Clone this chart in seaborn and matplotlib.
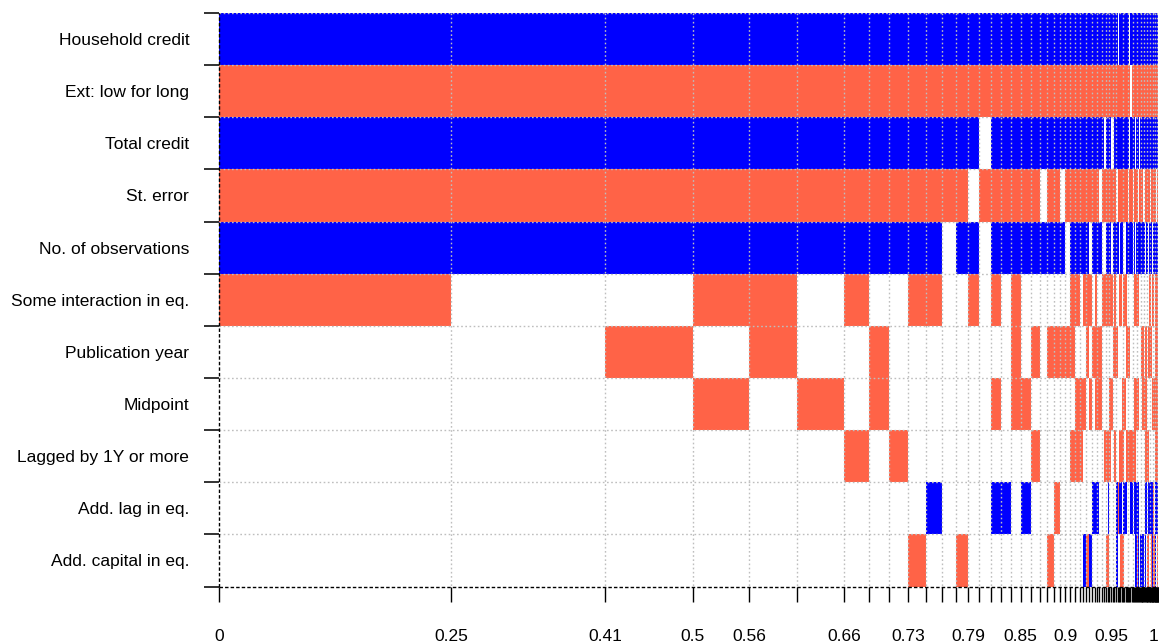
import numpy as np
import matplotlib
matplotlib.use("Agg")
import matplotlib.pyplot as plt
from matplotlib.colors import ListedColormap, BoundaryNorm
import seaborn as sns

# Regressors, top to bottom
variables = [
    "Household credit", "Ext: low for long", "Total credit", "St. error",
    "No. of observations", "Some interaction in eq.", "Publication year",
    "Midpoint", "Lagged by 1Y or more", "Add. lag in eq.", "Add. capital in eq.",
]

# Best models, ordered by posterior model probability.
# One character per regressor: '+' positive sign, '-' negative sign, '0' not included.
models = [
    "+-+-+-00000", "+-+-+000000", "+-+-+0-0000", "+-+-+-0-000", "+-+-+--0000",
    "+-+-+00-000", "+-+-+-00-00", "+-+-+0--000", "+-+-+000-00", "+-+-+-0000-",
    "+-+-+-000+0", "+-+-0000000", "+-+-+00000-", "+-+0+-00000", "+-0-0000000",
    "+-+-+-0-0+0", "+-+-+0000+0", "+-+-+---000", "+-+-+00-0+0", "+-+-+0-0-00",
    "+-+0+000000", "+-+-+0-000-", "+-+-+0-00-0", "+-+0+0-0000", "+-+-00-0000",
    "+-+-+--0-00", "+-+-+-0--00",
    "+-+-+00--00", "+-+-+-0-00+", "+-+-+--000-", "+-+-0-0-00+", "+-+-+0-00+0",
    "+-+-+---0+0", "+-+-+0--0+0", "+-+0+0--000", "+-+-0-00000", "+-0-0-00-00",
    "+-+-+-00-0-", "+-+-+-00-+-", "+-+-+-0--00", "+-0-0-0-000", "+-0-+0-0000",
    "+-+-+--0-00", "+-+0+0-00++", "0-+-+0000-0",
    "+-+-0-00-+0", "+-+-+-00-+-", "+-+-+00--0-", "+-+-0-0--+-", "+-+-0-0-0+0",
    "+-+-+--0-+0", "+-+-+0-0-00", "+-+0+0-0-00", "0-0-+0-0-00", "+0+-+000-+0",
    "+-+-+000-+0", "+-+00000-00", "+-+-+-0--+0", "+-0-0-0--++", "+-+-+-0-0++",
    "+-+-+-0-0+-", "+-+0+-0-0++", "+-0-+000000", "+-+-+00000+", "+-+-+0-000+",
    "+-+-00--00+", "+-+-+0--00+", "+-+0+0--00+", "+-+0+00-000", "+-+-00---++",
    "+-+-+0---+0", "+-+-+0-0-+-", "+-+-+000-0-", "+-+-00-0-+-", "+-+-+--00+0",
    "+-+-+--00++", "+-+0+--00+0", "+-+-+0-00+-", "+-+-+--00+-", "+-+-0-0-0++",
    "+-0-+-0-00+", "+-+-+-0-0--", "+-+-+00-00-", "+-+-+----+0", "+-+-+----++",
    "+-+-+----0-", "+-+0+----+0", "+-+-0----+-", "+-+-+----+-", "+-0-+----+0",
]

pmp = [
    0.2471, 0.1640, 0.0934, 0.0603, 0.0511, 0.0501, 0.0263, 0.0207, 0.0206, 0.0195,
    0.0167, 0.0149, 0.0128, 0.0122, 0.0120, 0.0108, 0.0107, 0.0106, 0.0106, 0.0099,
    0.0078, 0.0071, 0.0061, 0.0060, 0.0051, 0.0051, 0.0051,
    0.0034, 0.0033, 0.0032, 0.0031, 0.0028, 0.0027, 0.0025, 0.0023, 0.0022, 0.0021,
    0.0020, 0.0019, 0.0019, 0.0018, 0.0017, 0.0017, 0.0016, 0.0015,
    0.0015, 0.0015, 0.0014, 0.0014, 0.0014, 0.0013, 0.0013, 0.0013, 0.0012, 0.0012,
    0.0012, 0.0011, 0.0011, 0.0011, 0.0011, 0.0010, 0.0010, 0.0010, 0.0010, 0.0010,
    0.0009, 0.0009, 0.0009, 0.0009, 0.0009, 0.0008, 0.0008, 0.0008, 0.0008, 0.0008,
    0.0007, 0.0007, 0.0007, 0.0007, 0.0007, 0.0006, 0.0006, 0.0006, 0.0006, 0.0006,
    0.0005, 0.0005, 0.0005, 0.0005, 0.0005,
]

# Cumulative-probability labels and the model boundary each one sits on
tick_text = ["0", "0.25", "0.41", "0.5", "0.56", "0.66", "0.73", "0.79", "0.85", "0.9", "0.95", "1"]
tick_boundary = [0, 1, 2, 3, 4, 6, 9, 13, 18, 24, 40, 90]

sns.set_style("white")
plt.rcParams["font.family"] = ["Liberation Sans", "DejaVu Sans"]

sign_value = {"+": 1, "-": -1, "0": 0}
signs = np.array([[sign_value[c] for c in m] for m in models]).T  # variables x models
edges = np.concatenate([[0.0], np.cumsum(pmp)])
total = edges[-1]
n_var = len(variables)

fig = plt.figure(figsize=(11.59, 6.43), dpi=100)
W, H = 1159, 643
ax = fig.add_axes([219 / W, 1 - 586.5 / H, (1158 - 219) / W, (586.5 - 13) / H])

cmap = ListedColormap(["tomato", "white", "blue"])
norm = BoundaryNorm([-1.5, -0.5, 0.5, 1.5], cmap.N)
ax.pcolormesh(edges, np.arange(n_var + 1), signs, cmap=cmap, norm=norm,
              shading="flat", edgecolors="none", antialiased=False)

ax.set_xlim(0, total)
ax.set_ylim(n_var, 0)

# dotted grid along model and row boundaries
grid_idx = list(range(1, 28)) + list(range(29, 45, 2)) + list(range(48, 90, 4))
grid_col = "#BEBEBE"
dots = (0, (1.2, 1.8))
ax.vlines(edges[grid_idx], 0, n_var, colors=grid_col, linestyles=dots, lw=1.0, zorder=3)
ax.hlines(np.arange(0, n_var), 0, total, colors=grid_col, linestyles=dots, lw=1.0, zorder=3)
ax.axvline(total, color=grid_col, ls=dots, lw=1.0, zorder=3)

# dashed frame on the left and bottom
ax.axvline(0, color="black", ls=(0, (2.5, 1.5)), lw=1.0, zorder=4, clip_on=False)
ax.axhline(n_var, color="black", ls=(0, (2.5, 1.5)), lw=1.0, zorder=4, clip_on=False)

for s in ax.spines.values():
    s.set_visible(False)

# x axis: a tick at every model boundary, text at selected ones
labels = [""] * len(edges)
for t, b in zip(tick_text, tick_boundary):
    labels[b] = t
ax.set_xticks(edges)
ax.set_xticklabels(labels)
ax.tick_params(axis="x", direction="out", length=10.8, width=1.0, pad=19.5,
               labelsize=12.5, color="black", labelcolor="black", bottom=True)
ax.get_xticklabels()[-1].set_horizontalalignment("right")

# y axis: ticks on row boundaries, names centred on rows
ax.set_yticks(np.arange(n_var + 1))
ax.set_yticklabels([])
ax.set_yticks(np.arange(n_var) + 0.5, minor=True)
ax.set_yticklabels(variables, minor=True)
ax.tick_params(axis="y", which="major", direction="out", length=10.8, width=1.3,
               color="#222222", left=True)
ax.tick_params(axis="y", which="minor", length=0, pad=21.5, labelsize=12.5,
               labelcolor="black", left=True)
ax.grid(False)

fig.savefig("out.png", dpi=100)
